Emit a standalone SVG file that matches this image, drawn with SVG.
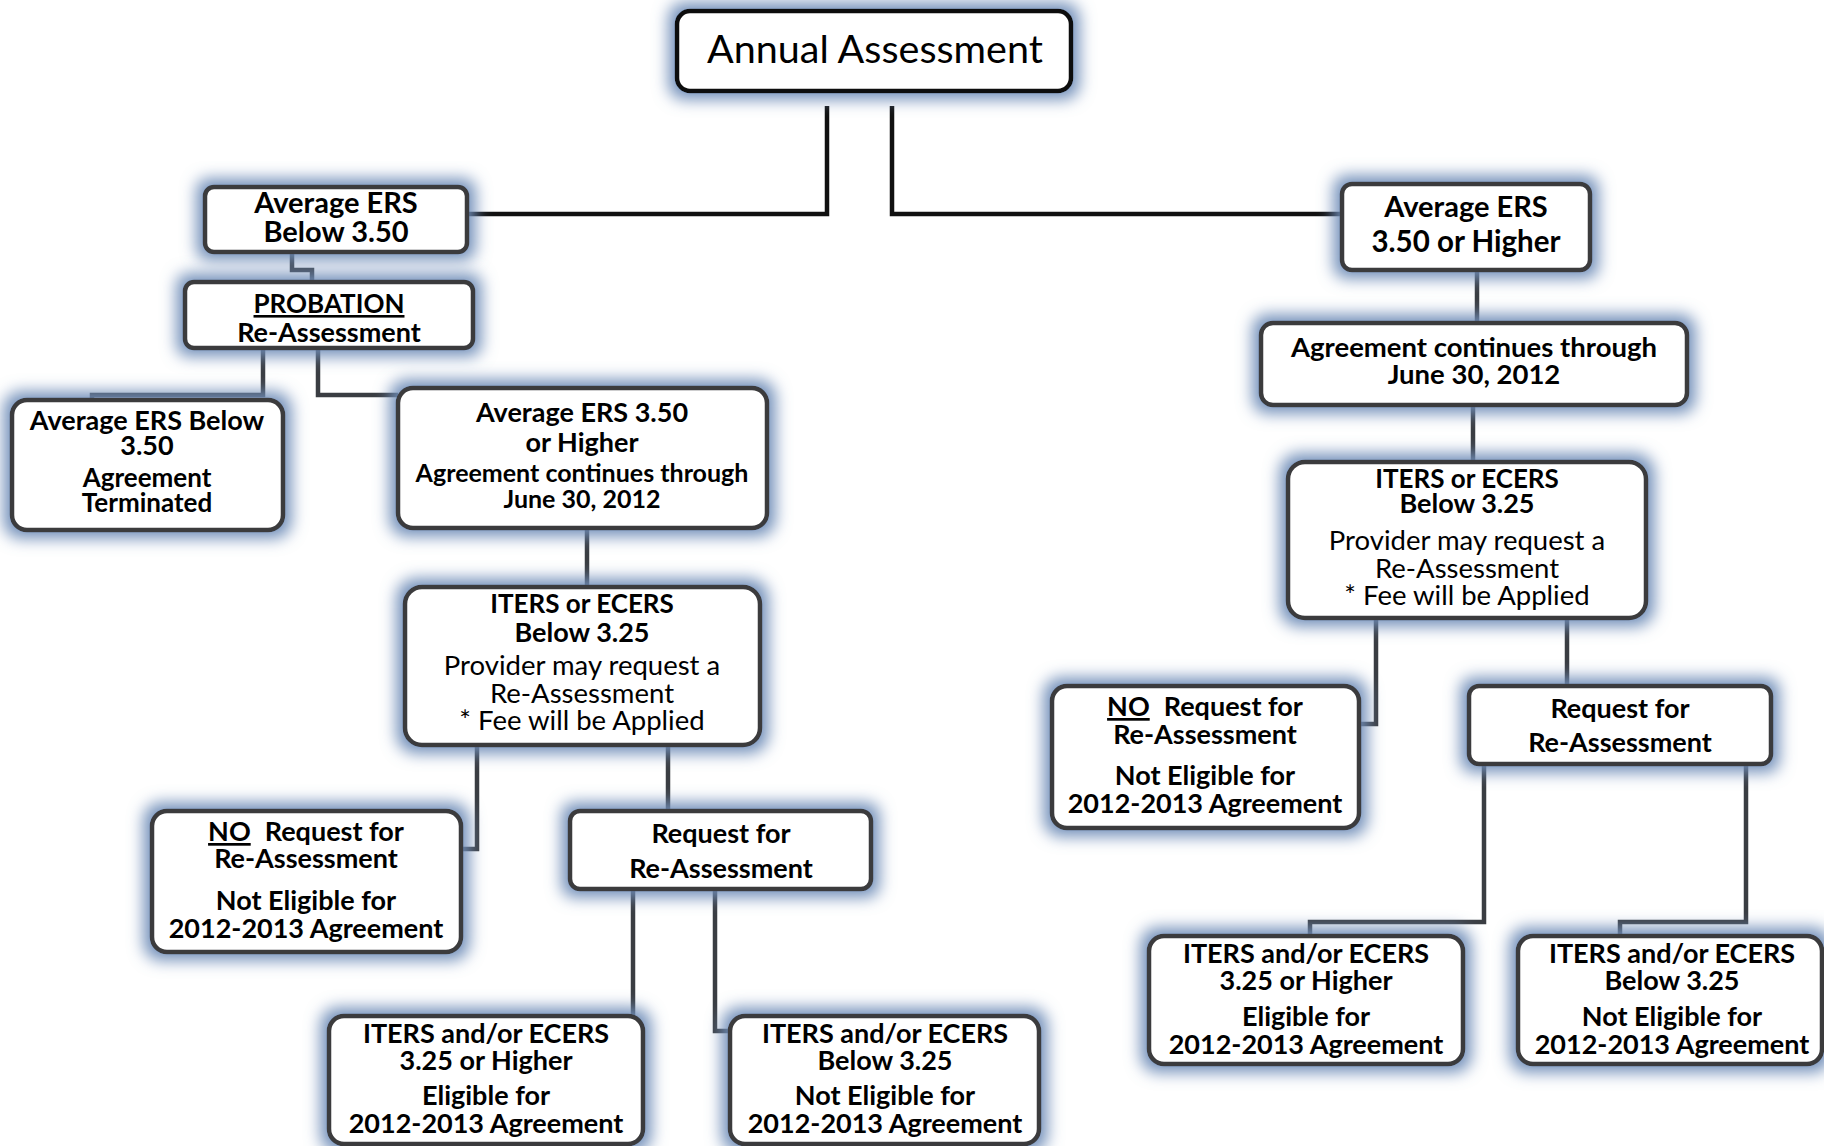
<svg xmlns="http://www.w3.org/2000/svg" width="1824" height="1146" viewBox="0 0 1824 1146">
<defs>
<filter id="glow" x="-20%" y="-40%" width="140%" height="180%">
<feMorphology in="SourceAlpha" operator="dilate" radius="6" result="d"/>
<feGaussianBlur in="d" stdDeviation="8" result="b"/>
<feFlood flood-color="#6f8db8" flood-opacity="1"/>
<feComposite in2="b" operator="in" result="g"/>
<feMerge><feMergeNode in="g"/><feMergeNode in="SourceGraphic"/></feMerge>
</filter>
</defs>
<style>
.box{fill:#fff;stroke:#3b3b3d;stroke-width:4.5;filter:url(#glow)}
.top{stroke:#111}
text{font-family:Lato,"Open Sans","Liberation Sans",sans-serif;text-anchor:middle;fill:#000}
.h{font-weight:bold;font-size:27px}
.s{font-weight:bold;font-size:26px}
.r{font-size:27.5px}
.c{fill:none;stroke:#3a3d42;stroke-width:4.5}
.ct{fill:none;stroke:#111;stroke-width:4.5}
</style>
<rect width="1824" height="1146" fill="#fff"/>
<g id="connectors">
<path class="ct" d="M827,106 V214 H467"/>
<path class="ct" d="M892,106 V214 H1342"/>
<path class="c" d="M292,252 V270 H312 V282"/>
<path class="c" d="M263,348 V395 H92 V400"/>
<path class="c" d="M318,348 V395 H398"/>
<path class="c" d="M587,528 V587"/>
<path class="c" d="M477,745 V849 H461"/>
<path class="c" d="M668,745 V811"/>
<path class="c" d="M633,889 V1016"/>
<path class="c" d="M715,889 V1031 H730"/>
<path class="c" d="M1477,270 V323"/>
<path class="c" d="M1473,405 V462"/>
<path class="c" d="M1376,618 V724 H1359"/>
<path class="c" d="M1567,618 V686"/>
<path class="c" d="M1484,764 V922 H1310 V936"/>
<path class="c" d="M1746,764 V922 H1620 V936"/>
</g>
<g id="annual">
<rect class="box top" x="677" y="11" width="394" height="80" rx="13"/>
<text x="875" y="63" style="font-size:39.5px">Annual Assessment</text>
</g>
<g id="avg-below">
<rect class="box" x="205" y="187" width="262" height="65" rx="9"/>
<text class="h" x="336" y="213" style="font-size:29px">Average ERS</text>
<text class="h" x="336" y="242" style="font-size:29px">Below 3.50</text>
</g>
<g id="probation">
<rect class="box" x="185" y="282" width="288" height="66" rx="9"/>
<text class="h" x="329" y="313" style="font-size:26px" text-decoration="underline">PROBATION</text>
<text class="h" x="329" y="342">Re-Assessment</text>
</g>
<g id="terminated">
<rect class="box" x="12" y="400" width="271" height="130" rx="15"/>
<text class="h" x="147" y="430">Average ERS Below</text>
<text class="h" x="147" y="455">3.50</text>
<text class="s" x="147" y="487">Agreement</text>
<text class="s" x="147" y="512">Terminated</text>
</g>
<g id="mid-higher">
<rect class="box" x="398" y="388" width="369" height="140" rx="15"/>
<text class="h" x="582" y="422">Average ERS 3.50</text>
<text class="h" x="582" y="452">or Higher</text>
<text class="s" x="582" y="482" style="font-size:25px">Agreement continues through</text>
<text class="s" x="582" y="508" style="font-size:25px">June 30, 2012</text>
</g>
<g id="iters-left">
<rect class="box" x="405" y="587" width="355" height="158" rx="17"/>
<text class="h" x="582" y="613" style="font-size:26px">ITERS or ECERS</text>
<text class="h" x="582" y="642">Below 3.25</text>
<text class="r" x="582" y="675">Provider may request a</text>
<text class="r" x="582" y="703">Re-Assessment</text>
<text class="r" x="582" y="730">* Fee will be Applied</text>
</g>
<g id="no-left">
<rect class="box" x="152" y="811" width="309" height="141" rx="15"/>
<text class="h" x="306" y="841"><tspan text-decoration="underline">NO</tspan><tspan dx="14">Request for</tspan></text>
<text class="h" x="306" y="868">Re-Assessment</text>
<text class="h" x="306" y="910">Not Eligible for</text>
<text class="h" x="306" y="938">2012-2013 Agreement</text>
</g>
<g id="req-left">
<rect class="box" x="570" y="811" width="301" height="78" rx="10"/>
<text class="h" x="721" y="843">Request for</text>
<text class="h" x="721" y="878">Re-Assessment</text>
</g>
<g id="elig-left">
<rect class="box" x="329" y="1016" width="314" height="128" rx="15"/>
<text class="h" x="486" y="1043">ITERS and/or ECERS</text>
<text class="h" x="486" y="1070">3.25 or Higher</text>
<text class="h" x="486" y="1105">Eligible for</text>
<text class="h" x="486" y="1133">2012-2013 Agreement</text>
</g>
<g id="noelig-left">
<rect class="box" x="730" y="1016" width="309" height="128" rx="15"/>
<text class="h" x="885" y="1043">ITERS and/or ECERS</text>
<text class="h" x="885" y="1070">Below 3.25</text>
<text class="h" x="885" y="1105">Not Eligible for</text>
<text class="h" x="885" y="1133">2012-2013 Agreement</text>
</g>
<g id="avg-higher">
<rect class="box" x="1342" y="184" width="248" height="86" rx="10"/>
<text class="h" x="1466" y="217" style="font-size:29px">Average ERS</text>
<text class="h" x="1466" y="252" style="font-size:29.5px">3.50 or Higher</text>
</g>
<g id="agree-right">
<rect class="box" x="1261" y="323" width="426" height="82" rx="12"/>
<text class="s" x="1474" y="357" style="font-size:27.5px">Agreement continues through</text>
<text class="s" x="1474" y="384" style="font-size:27.5px">June 30, 2012</text>
</g>
<g id="iters-right">
<rect class="box" x="1288" y="462" width="358" height="156" rx="17"/>
<text class="h" x="1467" y="488" style="font-size:26px">ITERS or ECERS</text>
<text class="h" x="1467" y="513">Below 3.25</text>
<text class="r" x="1467" y="550">Provider may request a</text>
<text class="r" x="1467" y="578">Re-Assessment</text>
<text class="r" x="1467" y="605">* Fee will be Applied</text>
</g>
<g id="no-right">
<rect class="box" x="1052" y="686" width="307" height="142" rx="15"/>
<text class="h" x="1205" y="716"><tspan text-decoration="underline">NO</tspan><tspan dx="14">Request for</tspan></text>
<text class="h" x="1205" y="744">Re-Assessment</text>
<text class="h" x="1205" y="785">Not Eligible for</text>
<text class="h" x="1205" y="813">2012-2013 Agreement</text>
</g>
<g id="req-right">
<rect class="box" x="1469" y="686" width="302" height="78" rx="10"/>
<text class="h" x="1620" y="718">Request for</text>
<text class="h" x="1620" y="752">Re-Assessment</text>
</g>
<g id="elig-right">
<rect class="box" x="1149" y="936" width="314" height="128" rx="15"/>
<text class="h" x="1306" y="963">ITERS and/or ECERS</text>
<text class="h" x="1306" y="990">3.25 or Higher</text>
<text class="h" x="1306" y="1026">Eligible for</text>
<text class="h" x="1306" y="1054">2012-2013 Agreement</text>
</g>
<g id="noelig-right">
<rect class="box" x="1518" y="936" width="304" height="128" rx="15"/>
<text class="h" x="1672" y="963">ITERS and/or ECERS</text>
<text class="h" x="1672" y="990">Below 3.25</text>
<text class="h" x="1672" y="1026">Not Eligible for</text>
<text class="h" x="1672" y="1054">2012-2013 Agreement</text>
</g>
</svg>
